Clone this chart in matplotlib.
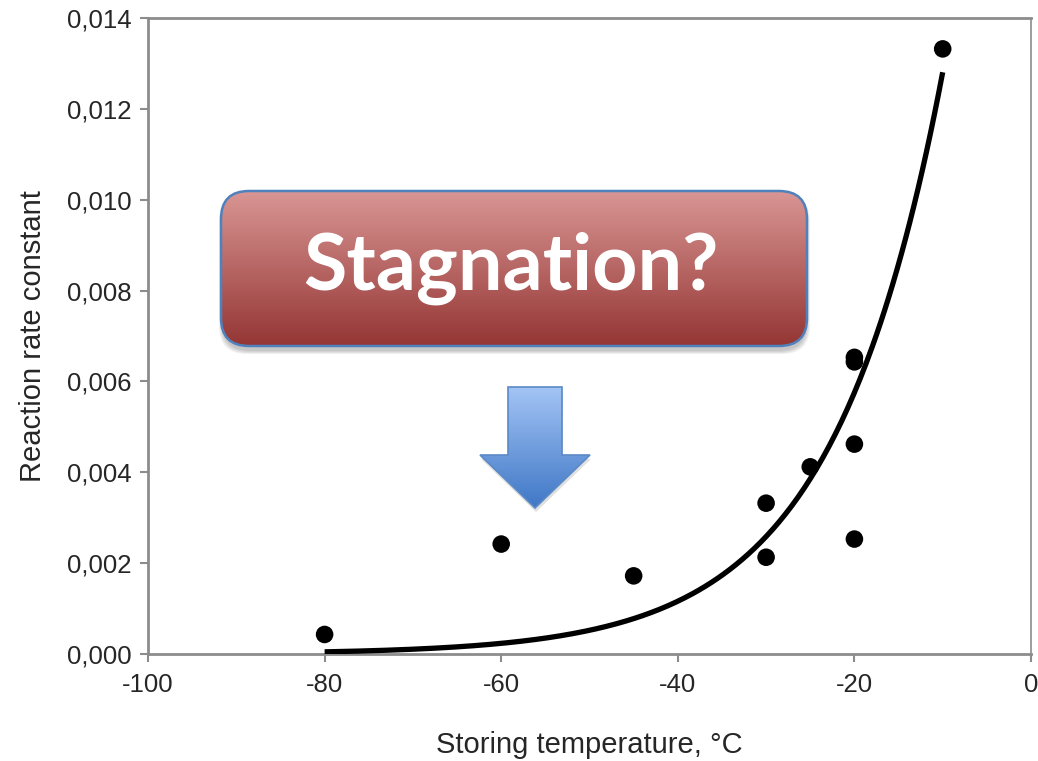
import numpy as np
import matplotlib
matplotlib.use("Agg")
import matplotlib.pyplot as plt
from matplotlib.patches import FancyBboxPatch, Polygon
from matplotlib.ticker import FuncFormatter

plt.rcParams['font.family'] = ['Liberation Sans', 'DejaVu Sans']

# Storage temperature (deg C) and measured reaction rate constants
temperature = [-80, -60, -45, -30, -30, -25, -20, -20, -20, -20, -10]
rate_const = [0.00043, 0.00242, 0.00172, 0.00332, 0.00213, 0.00412,
              0.00653, 0.00643, 0.00462, 0.00253, 0.01332]

# Exponential fit k = A * exp(B * T), drawn from -80 to -10 deg C
fit_A = 0.0285
fit_B = 0.080
fit_range = (-80, -10)

x_ticks = [-100, -80, -60, -40, -20, 0]
y_ticks = [0.000, 0.002, 0.004, 0.006, 0.008, 0.010, 0.012, 0.014]

W, H = 1038, 761
fig = plt.figure(figsize=(W / 100, H / 100), dpi=100)
ax = fig.add_axes([148 / W, 1 - 654 / H, (1031 - 148) / W, (654 - 18) / H])

frame = '#8c8c8c'
T_fit = np.linspace(fit_range[0], fit_range[1], 300)
ax.plot(T_fit, fit_A * np.exp(fit_B * T_fit), color='black', lw=3.8,
        solid_capstyle='butt', zorder=3)
ax.scatter(temperature, rate_const, s=160, color='black', zorder=4,
           edgecolors='none')

ax.set_xlim(-100, 0)
ax.set_ylim(0, 0.014)
ax.set_xticks(x_ticks)
ax.set_yticks(y_ticks)
ax.yaxis.set_major_formatter(FuncFormatter(lambda v, p: f"{v:.3f}".replace('.', ',')))
ax.xaxis.set_major_formatter(FuncFormatter(lambda v, p: f"{v:.0f}"))
ax.tick_params(axis='both', direction='out', length=6, width=1.5,
               color=frame, labelsize=18.5, labelcolor='#262626', pad=6)
ax.tick_params(axis='x', pad=8)

for side in ['left', 'top', 'bottom']:
    ax.spines[side].set_color(frame)
    ax.spines[side].set_linewidth(2.0)
ax.spines['right'].set_color(frame)
ax.spines['right'].set_linewidth(1.2)
ax.spines['right'].set_linestyle((0, (1, 1)))

ax.set_xlabel('Storing temperature, °C', fontsize=21, color='#262626', labelpad=24)
ax.set_ylabel('Reaction rate constant', fontsize=21, color='#262626', labelpad=14)

# Overlay in pixel coordinates for the callout box and the arrow
ov = fig.add_axes([0, 0, 1, 1], zorder=10)
ov.set_xlim(0, W)
ov.set_ylim(H, 0)
ov.axis('off')
ov.patch.set_alpha(0)

def vgrad(top, bottom, n=256):
    t = np.linspace(0, 1, n)[:, None]
    c0 = np.array(matplotlib.colors.to_rgb(top))
    c1 = np.array(matplotlib.colors.to_rgb(bottom))
    return (c0 * (1 - t) + c1 * t)[:, None, :].repeat(2, axis=1)

# shadow under the callout box
for i, a in enumerate([0.06, 0.06, 0.06, 0.06]):
    sh = FancyBboxPatch((222 - i, 196 - i), 585 + 2 * i, 155 + 2 * i,
                        boxstyle="round,pad=0,rounding_size=28",
                        fc='black', ec='none', alpha=a)
    ov.add_patch(sh)

box = FancyBboxPatch((221, 191), 586, 155, boxstyle="round,pad=0,rounding_size=28",
                     fc='none', ec='#4f81bd', lw=1.8, zorder=3)
ov.add_patch(box)
img = ov.imshow(vgrad('#d99694', '#943634'), extent=(221, 807, 346, 191),
                aspect='auto', zorder=2, interpolation='bilinear')
img.set_clip_path(box)
ov.text(511, 268, 'Stagnation?', color='white', fontsize=57, fontweight='bold',
        family=['Lato', 'DejaVu Sans'], ha='center', va='center', zorder=4)

# downward arrow
arrow_xy = [(508, 387), (562, 387), (562, 455), (590, 455), (535, 508),
            (480, 455), (508, 455)]
sh_arrow = Polygon([(x + 1, y + 4) for x, y in arrow_xy], closed=True,
                   fc='black', ec='none', alpha=0.12)
ov.add_patch(sh_arrow)
arrow = Polygon(arrow_xy, closed=True, fc='none', ec='#5b8ac6', lw=1.2, zorder=3)
ov.add_patch(arrow)
aimg = ov.imshow(vgrad('#a3c4f5', '#3f77c6'), extent=(480, 590, 508, 387),
                 aspect='auto', zorder=2, interpolation='bilinear')
aimg.set_clip_path(arrow)

fig.savefig('out.png', dpi=100)
